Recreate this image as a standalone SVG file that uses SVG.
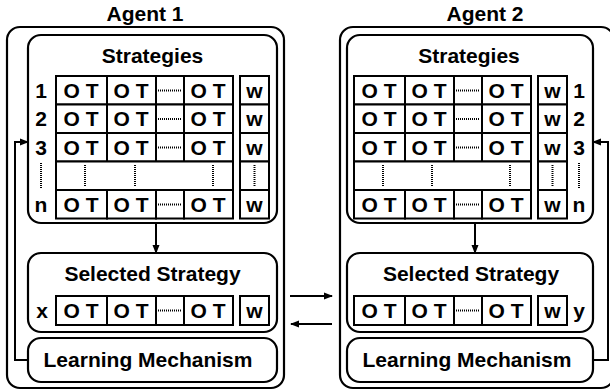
<svg xmlns="http://www.w3.org/2000/svg" width="610" height="392" viewBox="0 0 610 392">
<style>
.box{fill:#fff;stroke:#000;stroke-width:2.2}
.cell{fill:#fff;stroke:#000;stroke-width:2}
.ln{fill:none;stroke:#000;stroke-width:2}
.dot{fill:none;stroke:#000;stroke-width:2;stroke-dasharray:1 1}
text{font-family:"Liberation Sans",Arial,sans-serif;font-weight:bold;fill:#000}
.t{font-size:21px;text-anchor:middle}
.c{font-size:21px;text-anchor:middle}
</style>
<defs>
<marker id="ah" markerWidth="9" markerHeight="9" refX="8" refY="4.5" orient="auto" markerUnits="userSpaceOnUse">
<path d="M0,1 L9,4.5 L0,8 Z" fill="#000"/>
</marker>
</defs>
<rect width="610" height="392" fill="#fff"/>

<g id="agent1">
<text class="t" x="145" y="21">Agent 1</text>
<rect class="box" x="7" y="27" width="277" height="361" rx="13"/>
<g id="strategies1">
<rect class="box" x="28" y="35" width="249" height="188" rx="13"/>
<text class="t" x="152.5" y="63">Strategies</text>
<rect class="cell" x="56" y="76" width="51" height="28.5"/><rect class="cell" x="107" y="76" width="49" height="28.5"/><rect class="cell" x="156" y="76" width="28" height="28.5"/><rect class="cell" x="184" y="76" width="49" height="28.5"/><rect class="cell" x="240" y="76" width="29" height="28.5"/>
<line class="dot" x1="158" y1="90.5" x2="182" y2="90.5"/>
<text class="c" x="41" y="97.5">1</text><text class="c" x="81" y="97.5">O T</text><text class="c" x="131" y="97.5">O T</text><text class="c" x="208" y="97.5">O T</text><text class="c" x="254.5" y="97.5">w</text>
<rect class="cell" x="56" y="104.5" width="51" height="28.5"/><rect class="cell" x="107" y="104.5" width="49" height="28.5"/><rect class="cell" x="156" y="104.5" width="28" height="28.5"/><rect class="cell" x="184" y="104.5" width="49" height="28.5"/><rect class="cell" x="240" y="104.5" width="29" height="28.5"/>
<line class="dot" x1="158" y1="119" x2="182" y2="119"/>
<text class="c" x="41" y="126">2</text><text class="c" x="81" y="126">O T</text><text class="c" x="131" y="126">O T</text><text class="c" x="208" y="126">O T</text><text class="c" x="254.5" y="126">w</text>
<rect class="cell" x="56" y="133" width="51" height="28.5"/><rect class="cell" x="107" y="133" width="49" height="28.5"/><rect class="cell" x="156" y="133" width="28" height="28.5"/><rect class="cell" x="184" y="133" width="49" height="28.5"/><rect class="cell" x="240" y="133" width="29" height="28.5"/>
<line class="dot" x1="158" y1="147.5" x2="182" y2="147.5"/>
<text class="c" x="41" y="154.5">3</text><text class="c" x="81" y="154.5">O T</text><text class="c" x="131" y="154.5">O T</text><text class="c" x="208" y="154.5">O T</text><text class="c" x="254.5" y="154.5">w</text>
<rect class="cell" x="56" y="161.5" width="177" height="28.5"/><rect class="cell" x="240" y="161.5" width="29" height="28.5"/>
<line class="dot" x1="85" y1="165" x2="85" y2="187"/><line class="dot" x1="135" y1="165" x2="135" y2="187"/><line class="dot" x1="213" y1="165" x2="213" y2="187"/><line class="dot" x1="254.5" y1="165" x2="254.5" y2="187"/>
<line class="dot" x1="41" y1="163" x2="41" y2="188"/>
<rect class="cell" x="56" y="190" width="51" height="28.5"/><rect class="cell" x="107" y="190" width="49" height="28.5"/><rect class="cell" x="156" y="190" width="28" height="28.5"/><rect class="cell" x="184" y="190" width="49" height="28.5"/><rect class="cell" x="240" y="190" width="29" height="28.5"/>
<line class="dot" x1="158" y1="204.5" x2="182" y2="204.5"/>
<text class="c" x="41" y="211.5">n</text><text class="c" x="81" y="211.5">O T</text><text class="c" x="131" y="211.5">O T</text><text class="c" x="208" y="211.5">O T</text><text class="c" x="254.5" y="211.5">w</text>
</g>
<g id="selected1">
<rect class="box" x="28" y="253" width="249" height="79" rx="13"/>
<text class="t" x="152.5" y="281">Selected Strategy</text>
<rect class="cell" x="56" y="296" width="51" height="29"/><rect class="cell" x="107" y="296" width="49" height="29"/><rect class="cell" x="156" y="296" width="28" height="29"/><rect class="cell" x="184" y="296" width="49" height="29"/><rect class="cell" x="240" y="296" width="29" height="29"/>
<line class="dot" x1="158" y1="310.5" x2="182" y2="310.5"/>
<text class="c" x="42" y="317.5">x</text><text class="c" x="81" y="317.5">O T</text><text class="c" x="131" y="317.5">O T</text><text class="c" x="208" y="317.5">O T</text><text class="c" x="254.5" y="317.5">w</text>
</g>
<g id="learning1">
<rect class="box" x="28" y="338" width="249" height="44" rx="13"/>
<text class="t" x="148" y="367">Learning Mechanism</text>
</g>
</g>

<g id="agent2">
<text class="t" x="485" y="21">Agent 2</text>
<rect class="box" x="340" y="27" width="274" height="361" rx="13"/>
<g id="strategies2">
<rect class="box" x="347" y="35" width="246" height="188" rx="13"/>
<text class="t" x="469" y="63">Strategies</text>
<rect class="cell" x="354" y="76" width="51" height="28.5"/><rect class="cell" x="405" y="76" width="49" height="28.5"/><rect class="cell" x="454" y="76" width="28" height="28.5"/><rect class="cell" x="482" y="76" width="49" height="28.5"/><rect class="cell" x="538" y="76" width="29" height="28.5"/>
<line class="dot" x1="456" y1="90.5" x2="480" y2="90.5"/>
<text class="c" x="379" y="97.5">O T</text><text class="c" x="429" y="97.5">O T</text><text class="c" x="506" y="97.5">O T</text><text class="c" x="552.5" y="97.5">w</text><text class="c" x="579" y="97.5">1</text>
<rect class="cell" x="354" y="104.5" width="51" height="28.5"/><rect class="cell" x="405" y="104.5" width="49" height="28.5"/><rect class="cell" x="454" y="104.5" width="28" height="28.5"/><rect class="cell" x="482" y="104.5" width="49" height="28.5"/><rect class="cell" x="538" y="104.5" width="29" height="28.5"/>
<line class="dot" x1="456" y1="119" x2="480" y2="119"/>
<text class="c" x="379" y="126">O T</text><text class="c" x="429" y="126">O T</text><text class="c" x="506" y="126">O T</text><text class="c" x="552.5" y="126">w</text><text class="c" x="579" y="126">2</text>
<rect class="cell" x="354" y="133" width="51" height="28.5"/><rect class="cell" x="405" y="133" width="49" height="28.5"/><rect class="cell" x="454" y="133" width="28" height="28.5"/><rect class="cell" x="482" y="133" width="49" height="28.5"/><rect class="cell" x="538" y="133" width="29" height="28.5"/>
<line class="dot" x1="456" y1="147.5" x2="480" y2="147.5"/>
<text class="c" x="379" y="154.5">O T</text><text class="c" x="429" y="154.5">O T</text><text class="c" x="506" y="154.5">O T</text><text class="c" x="552.5" y="154.5">w</text><text class="c" x="579" y="154.5">3</text>
<rect class="cell" x="354" y="161.5" width="177" height="28.5"/><rect class="cell" x="538" y="161.5" width="29" height="28.5"/>
<line class="dot" x1="383" y1="165" x2="383" y2="187"/><line class="dot" x1="432" y1="165" x2="432" y2="187"/><line class="dot" x1="510" y1="165" x2="510" y2="187"/><line class="dot" x1="552.5" y1="165" x2="552.5" y2="187"/>
<line class="dot" x1="579" y1="163" x2="579" y2="188"/>
<rect class="cell" x="354" y="190" width="51" height="28.5"/><rect class="cell" x="405" y="190" width="49" height="28.5"/><rect class="cell" x="454" y="190" width="28" height="28.5"/><rect class="cell" x="482" y="190" width="49" height="28.5"/><rect class="cell" x="538" y="190" width="29" height="28.5"/>
<line class="dot" x1="456" y1="204.5" x2="480" y2="204.5"/>
<text class="c" x="379" y="211.5">O T</text><text class="c" x="429" y="211.5">O T</text><text class="c" x="506" y="211.5">O T</text><text class="c" x="552.5" y="211.5">w</text><text class="c" x="579" y="211.5">n</text>
</g>
<g id="selected2">
<rect class="box" x="347" y="253" width="246" height="79" rx="13"/>
<text class="t" x="471" y="281">Selected Strategy</text>
<rect class="cell" x="354" y="296" width="51" height="29"/><rect class="cell" x="405" y="296" width="49" height="29"/><rect class="cell" x="454" y="296" width="28" height="29"/><rect class="cell" x="482" y="296" width="49" height="29"/><rect class="cell" x="538" y="296" width="29" height="29"/>
<line class="dot" x1="456" y1="310.5" x2="480" y2="310.5"/>
<text class="c" x="379" y="317.5">O T</text><text class="c" x="429" y="317.5">O T</text><text class="c" x="506" y="317.5">O T</text><text class="c" x="552.5" y="317.5">w</text><text class="c" x="579" y="317.5">y</text>
</g>
<g id="learning2">
<rect class="box" x="347" y="338" width="246" height="44" rx="13"/>
<text class="t" x="467" y="367">Learning Mechanism</text>
</g>
</g>

<g id="connectors">
<line class="ln" x1="156" y1="223" x2="156" y2="253" marker-end="url(#ah)"/>
<line class="ln" x1="475" y1="223" x2="475" y2="253" marker-end="url(#ah)"/>
<path class="ln" d="M28,360 H15 V142 H28" marker-end="url(#ah)"/>
<path class="ln" d="M593,360 H608 V142 H593" marker-end="url(#ah)"/>
<line class="ln" x1="290" y1="296" x2="332" y2="296" marker-end="url(#ah)"/>
<line class="ln" x1="332" y1="324" x2="291" y2="324" marker-end="url(#ah)"/>
</g>
</svg>
